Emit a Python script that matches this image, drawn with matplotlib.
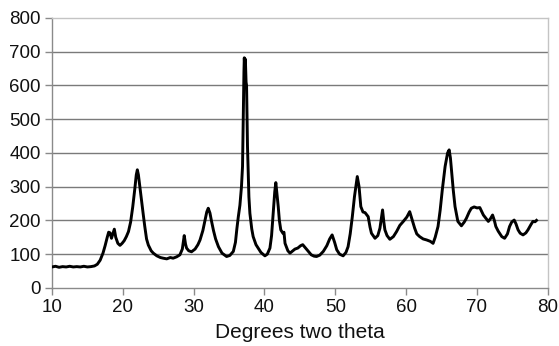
import matplotlib
matplotlib.use("Agg")
import matplotlib.pyplot as plt

plt.rcParams['font.family'] = ['Liberation Sans', 'DejaVu Sans']

# Powder diffraction scan: 2-theta (degrees) and intensity (counts)
two_theta = [
    10.0, 10.5, 11.0, 11.5, 12.0, 12.5, 13.0, 13.5, 14.0, 14.5, 15.0, 15.5,
    16.0, 16.4, 16.8, 17.2, 17.5, 17.8, 18.0, 18.2, 18.4, 18.6, 18.8, 19.0,
    19.3, 19.6, 19.9, 20.2, 20.5, 20.8, 21.1, 21.4, 21.7, 21.9, 22.05, 22.2,
    22.4, 22.65, 22.9, 23.1, 23.35, 23.6, 24.0, 24.3, 24.8, 25.3, 25.7, 26.2,
    26.7, 27.1, 27.6, 28.06, 28.4, 28.67, 28.85, 29.0, 29.3, 29.7, 30.2, 30.6,
    30.9, 31.3, 31.6, 31.85, 32.06, 32.3, 32.5, 32.8, 33.1, 33.5, 34.0, 34.65,
    35.1, 35.6, 35.9, 36.1, 36.3, 36.53, 36.75, 36.9, 37.0, 37.1, 37.15, 37.22,
    37.3, 37.4, 37.47, 37.6, 37.7, 37.8, 37.94, 38.2, 38.4, 38.8, 39.1, 39.5,
    40.06, 40.4, 40.77, 41.0, 41.2, 41.45, 41.6, 41.75, 41.94, 42.1, 42.3, 42.6,
    42.75, 42.9, 43.3, 43.6, 44.0, 44.3, 44.7, 45.1, 45.4, 45.8, 46.2, 46.6,
    47.0, 47.35, 47.8, 48.3, 48.8, 49.2, 49.55, 49.9, 50.2, 50.6, 51.1, 51.5,
    51.8, 52.1, 52.4, 52.7, 53.1, 53.35, 53.6, 53.9, 54.2, 54.64, 54.9, 55.1,
    55.6, 56.0, 56.3, 56.5, 56.67, 56.85, 57.0, 57.3, 57.7, 58.2, 58.65, 59.1,
    59.6, 60.1, 60.5, 60.8, 61.2, 61.5, 61.9, 62.4, 62.9, 63.4, 63.8, 64.1,
    64.5, 64.8, 65.1, 65.5, 65.85, 66.07, 66.25, 66.4, 66.65, 66.9, 67.3, 67.8,
    68.2, 68.5, 68.9, 69.2, 69.6, 70.0, 70.4, 70.9, 71.3, 71.6, 71.9, 72.2,
    72.45, 72.66, 73.0, 73.5, 73.9, 74.3, 74.6, 74.9, 75.25, 75.5, 75.8, 76.1,
    76.5, 76.9, 77.2, 77.6, 77.9, 78.2, 78.4,
]
intensity = [
    62, 64, 61, 63, 62, 64, 62, 63, 62, 64, 62, 63,
    65, 70, 82, 103, 125, 150, 165, 163, 147, 160, 174, 150,
    132, 126, 132, 140, 152, 167, 195, 240, 295, 335, 350, 335,
    300, 255, 215, 182, 145, 127, 110, 103, 95, 90, 88, 86,
    90, 88, 92, 98, 115, 155, 130, 118, 110, 107, 115, 128,
    142, 170, 200, 225, 236, 222, 200, 170, 145, 122, 103, 93,
    96, 108, 135, 175, 210, 245, 300, 360, 500, 640, 682, 650,
    678, 610, 600, 420, 340, 270, 221, 175, 152, 128, 118, 105,
    95, 100, 118, 155, 211, 285, 312, 280, 241, 200, 172, 162,
    165, 132, 110, 103, 110, 115, 118, 125, 128, 118, 108, 98,
    94, 93, 97, 108, 125, 145, 157, 135, 113, 100, 95, 105,
    122, 160, 211, 270, 330, 300, 241, 225, 223, 211, 180, 162,
    147, 155, 177, 205, 231, 195, 172, 155, 144, 152, 167, 185,
    197, 210, 226, 205, 177, 160, 152, 145, 142, 138, 132, 150,
    182, 230, 290, 360, 400, 409, 385, 350, 290, 241, 197, 184,
    195, 206, 225, 236, 240, 237, 238, 216, 205, 197, 205, 216,
    200, 182, 168, 152, 147, 160, 182, 195, 201, 190, 172, 162,
    157, 163, 172, 187, 197, 196, 200,
]

x_ticks = [10, 20, 30, 40, 50, 60, 70, 80]
y_ticks = [0, 100, 200, 300, 400, 500, 600, 700, 800]
x_label = "Degrees two theta"

fig = plt.figure(figsize=(5.59, 3.46), dpi=100)
ax = fig.add_axes([0.093, 0.168, 0.887, 0.780])

ax.plot(two_theta, intensity, color="black", linewidth=2.1,
        solid_joinstyle="round", zorder=3)

ax.set_xlim(10, 80)
ax.set_ylim(0, 800)
ax.set_xticks(x_ticks)
ax.set_yticks(y_ticks)

# Horizontal gridlines, Excel style
for yv in y_ticks[1:-1]:
    ax.axhline(yv, color="#7a7a7a", linewidth=1.0, zorder=1)

for side in ("top", "right"):
    ax.spines[side].set_color("#c4c4c4")
    ax.spines[side].set_linewidth(1.0)
for side in ("left", "bottom"):
    ax.spines[side].set_color("#8a8a8a")
    ax.spines[side].set_linewidth(1.0)

ax.tick_params(axis="both", direction="out", length=5, width=1.0,
               color="#8a8a8a", labelsize=13.5, labelcolor="#111111")
ax.tick_params(axis="x", pad=3)
ax.tick_params(axis="y", pad=3)

ax.set_xlabel(x_label, fontsize=15, color="#111111", labelpad=5)

fig.savefig("out.png", dpi=100)
